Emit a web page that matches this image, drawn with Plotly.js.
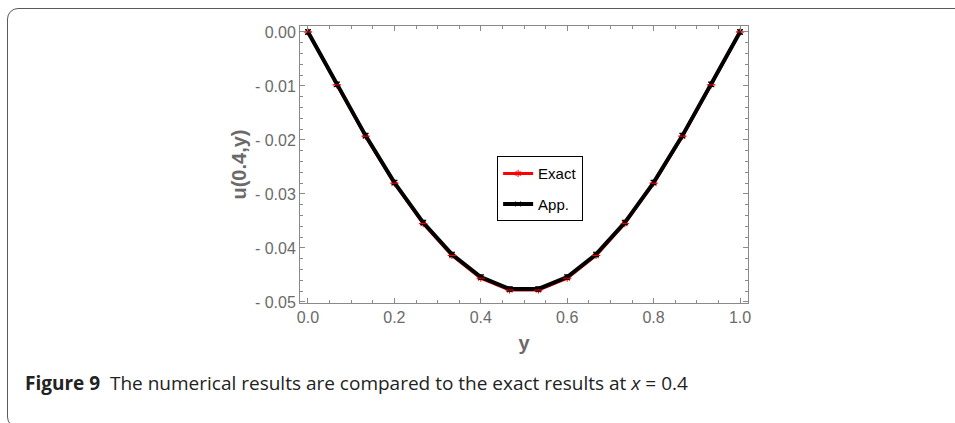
<!DOCTYPE html>
<html>
<head>
<meta charset="utf-8">
<script src="https://cdn.plot.ly/plotly-3.0.1.min.js"></script>
<style>
  html, body { margin: 0; padding: 0; background: #fff; overflow: hidden; }
  #wrap { position: relative; width: 955px; height: 423px; }
  #chart { position: absolute; left: 0; top: 0; width: 955px; height: 423px; }
  #frame { position: absolute; left: 7px; top: 8px; width: 1000px; height: 420px;
           border: 1.5px solid #5a5a5a; border-radius: 11px; box-sizing: border-box;
           pointer-events: none; }
</style>
</head>
<body>
<div id="wrap">
  <div id="chart"></div>
  <div id="frame"></div>
</div>
<script>
// Grid points y = k/15
const yPoints = [0, 0.0667, 0.1333, 0.2, 0.2667, 0.3333, 0.4, 0.4667, 0.5333, 0.6, 0.6667, 0.7333, 0.8, 0.8667, 0.9333, 1.0];
// Exact solution u(0.4, y)
const exactValues = [0, -0.0098, -0.0193, -0.0280, -0.0355, -0.0414, -0.0456, -0.0478, -0.0478, -0.0456, -0.0414, -0.0355, -0.0280, -0.0193, -0.0098, 0];
// Approximate (numerical) solution
const appValues = [0, -0.0097, -0.0192, -0.0279, -0.0353, -0.0412, -0.0454, -0.0476, -0.0476, -0.0454, -0.0412, -0.0353, -0.0279, -0.0192, -0.0097, 0];
// Error bar half-heights of the approximation
const appErrors = [0.0004, 0.0004, 0.0004, 0.0004, 0.0004, 0.0004, 0.0004, 0.0004, 0.0004, 0.0004, 0.0004, 0.0004, 0.0004, 0.0004, 0.0004, 0.0004];

const xTickVals = [0, 0.2, 0.4, 0.6, 0.8, 1.0];
const xTickText = ['0.0', '0.2', '0.4', '0.6', '0.8', '1.0'];
const yTickVals = [0, -0.01, -0.02, -0.03, -0.04, -0.05];
const yTickText = ['0.00', '- 0.01', '- 0.02', '- 0.03', '- 0.04', '- 0.05'];

const gray = '#6a6a6a';
const frameCol = '#8a8a8a';
const chartFont = 'Liberation Sans, Arial, sans-serif';

const traces = [
  {
    x: yPoints, y: exactValues, name: 'Exact', type: 'scatter', mode: 'lines+markers',
    line: {color: '#ff0000', width: 3},
    marker: {symbol: 'asterisk-open', size: 6, color: '#ff0000', line: {color: '#ff0000', width: 1}},
    legendgroup: 'a'
  },
  {
    x: yPoints, y: appValues, name: 'App.', type: 'scatter', mode: 'lines+markers',
    line: {color: '#000000', width: 4},
    marker: {symbol: 'x-thin-open', size: 5, color: '#000000', line: {color: '#333', width: 1}},
    error_y: {type: 'data', array: appErrors, visible: true, color: '#000000', thickness: 1.2, width: 3},
    legendgroup: 'b'
  },
  {
    x: yPoints, y: exactValues, name: 'Exact', type: 'scatter', mode: 'markers',
    marker: {symbol: 'line-ew-open', size: 6, color: '#ff0000', line: {color: '#ff0000', width: 1}},
    showlegend: false, hoverinfo: 'skip'
  }
];

const layout = {
  width: 955, height: 423,
  margin: {l: 300, r: 207, t: 26, b: 120},
  paper_bgcolor: '#ffffff', plot_bgcolor: '#ffffff',
  font: {family: chartFont, color: gray, size: 16},
  showlegend: true,
  legend: {
    x: 0.44, y: 0.53, xanchor: 'left', yanchor: 'top',
    bgcolor: '#ffffff', bordercolor: '#000000', borderwidth: 1,
    font: {family: chartFont, size: 15, color: '#000000'},
    traceorder: 'grouped', tracegroupgap: 8
  },
  xaxis: {
    range: [-0.0185, 1.0185], tickvals: xTickVals, ticktext: xTickText,
    ticks: 'inside', ticklen: 5, tickcolor: frameCol, tickwidth: 1,
    showline: true, linecolor: frameCol, linewidth: 1, mirror: 'allticks',
    showgrid: false, zeroline: false,
    tickfont: {family: chartFont, size: 16, color: gray},
    minor: {dtick: 0.05, tick0: 0, ticks: 'inside', ticklen: 3, tickcolor: frameCol, showgrid: false},
    title: {text: '<b>y</b>', font: {family: chartFont, size: 20, color: gray}, standoff: 10}
  },
  yaxis: {
    range: [-0.0502, 0.0011], tickvals: yTickVals, ticktext: yTickText,
    ticks: 'inside', ticklen: 5, tickcolor: frameCol, tickwidth: 1,
    showline: true, linecolor: frameCol, linewidth: 1, mirror: 'allticks',
    showgrid: false, zeroline: false,
    tickfont: {family: chartFont, size: 16, color: gray},
    minor: {dtick: 0.002, tick0: 0, ticks: 'inside', ticklen: 3, tickcolor: frameCol, showgrid: false},
    title: {text: '<b>u(0.4,y)</b>', font: {family: chartFont, size: 20, color: gray}, standoff: 2}
  },
  annotations: [
    {
      xref: 'paper', yref: 'paper', x: -0.618, y: -0.289, xanchor: 'left', yanchor: 'middle',
      showarrow: false, align: 'left',
      text: '<b>Figure 9</b>  The numerical results are compared to the exact results at <i>x</i> = 0.4',
      font: {family: 'Open Sans, Noto Sans, sans-serif', size: 19, color: '#222222'}
    }
  ]
};

Plotly.newPlot('chart', traces, layout, {displayModeBar: false, staticPlot: true});
</script>
</body>
</html>
